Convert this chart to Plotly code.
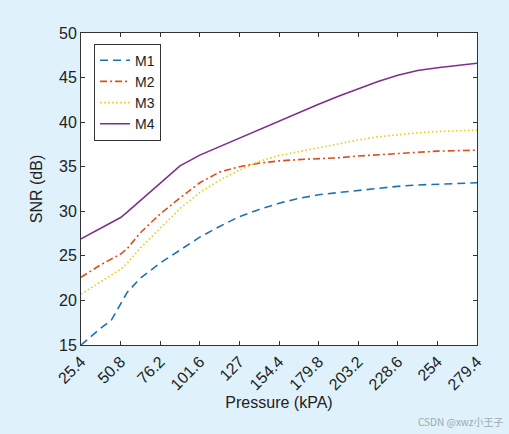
import plotly.graph_objects as go

# pressure grid (kPa) used for M2..M4, M1 has an extra knee point
pressure = [25.4, 38.1, 50.8, 55.0, 63.5, 76.2, 88.9, 101.6, 114.3, 127.0, 139.7,
            152.4, 165.1, 177.8, 190.5, 203.2, 215.9, 228.6, 241.3, 254.0, 266.7, 279.4]
pressure_m1 = [25.4, 38.1, 44.9, 55.0, 63.5, 76.2, 88.9, 101.6, 114.3, 127.0, 139.7,
               152.4, 165.1, 177.8, 190.5, 203.2, 215.9, 228.6, 241.3, 254.0, 266.7, 279.4]

snr_m1 = [15.0, 16.9, 17.8, 20.9, 22.5, 24.2, 25.65, 27.1, 28.3, 29.4, 30.2,
          30.9, 31.45, 31.85, 32.1, 32.35, 32.6, 32.8, 32.95, 33.05, 33.1, 33.2]
snr_m2 = [22.6, 24.0, 25.2, 25.8, 27.6, 29.7, 31.5, 33.2, 34.4, 35.0, 35.4,
          35.65, 35.8, 35.9, 36.0, 36.2, 36.35, 36.45, 36.6, 36.75, 36.8, 36.85]
snr_m3 = [20.7, 22.1, 23.5, 24.15, 25.9, 28.1, 30.3, 32.1, 33.5, 34.6, 35.6,
          36.25, 36.7, 37.1, 37.55, 38.0, 38.35, 38.6, 38.8, 38.95, 39.05, 39.1]
snr_m4 = [26.9, 28.1, 29.3, 29.9, 31.2, 33.2, 35.1, 36.3, 37.25, 38.25, 39.2,
          40.1, 41.05, 42.0, 42.9, 43.75, 44.55, 45.25, 45.8, 46.1, 46.35, 46.6]

tick_vals = [25.4, 50.8, 76.2, 101.6, 127.0, 152.4, 177.8, 203.2, 228.6, 254.0, 279.4]
tick_text = ['25.4', '50.8', '76.2', '101.6', '127', '154.4', '179.8',
             '203.2', '228.6', '254', '279.4']

series = [
    ('M1', pressure_m1, snr_m1, '#1A72B8', '8px,5px'),
    ('M2', pressure, snr_m2, '#D9501C', '7px,3px,2px,3px'),
    ('M3', pressure, snr_m3, '#E9CB1E', '1.6px,2.4px'),
    ('M4', pressure, snr_m4, '#7E2F8E', 'solid'),
]

fig = go.Figure()
for name, xs, ys, color, dash in series:
    fig.add_trace(go.Scatter(
        x=xs, y=ys, mode='lines', name=name,
        line=dict(color=color, dash=dash, width=1.6)
    ))

axis_common = dict(
    showgrid=False, zeroline=False,
    showline=True, linecolor='#333333', linewidth=1,
    mirror='ticks', ticks='inside', ticklen=4, tickcolor='#333333',
    tickfont=dict(size=16, color='#222222'),
)

fig.update_xaxes(
    range=[25.4, 279.4], tickvals=tick_vals, ticktext=tick_text, tickangle=-45,
    title=dict(text='Pressure (kPA)', font=dict(size=16, color='#222222'), standoff=4),
    **axis_common
)
fig.update_yaxes(
    range=[15, 50], dtick=5,
    title=dict(text='SNR (dB)', font=dict(size=16, color='#222222'), standoff=12),
    **axis_common
)

fig.add_annotation(
    text='CSDN @xwz小王子', xref='paper', yref='paper', x=1.07, y=-0.245,
    xanchor='right', yanchor='middle', showarrow=False,
    font=dict(size=10, color='#a0a8ae', family='Noto Sans CJK SC')
)

fig.update_layout(
    width=509, height=434,
    margin=dict(l=81, r=32, t=33, b=89),
    paper_bgcolor='#dff1fa', plot_bgcolor='white',
    font=dict(family='Liberation Sans, Arial', color='#222222'),
    legend=dict(
        x=0.033, y=0.966, xanchor='left', yanchor='top',
        bgcolor='white', bordercolor='#333333', borderwidth=1,
        font=dict(size=14), tracegroupgap=0, itemwidth=30,
    ),
)

fig.write_html(
    'out.html',
    config={'displayModeBar': False},
    post_script="document.body.style.margin='0';"
                "document.body.style.background='#dff1fa';"
)
